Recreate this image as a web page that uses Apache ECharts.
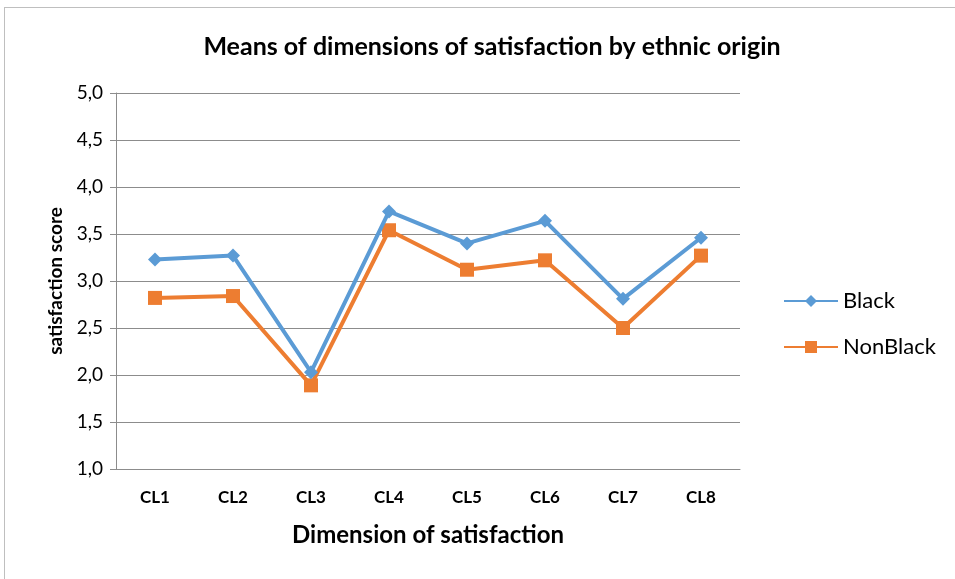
<!DOCTYPE html>
<html>
<head>
<meta charset="utf-8">
<script src="https://cdn.jsdelivr.net/npm/echarts@6/dist/echarts.min.js"></script>
<style>
  html, body { margin: 0; padding: 0; background: #fff; }
  #frame { position: absolute; left: 4px; top: 7px; width: 960px; height: 600px; border: 1px solid #bfbfbf; }
</style>
</head>
<body>
<div id="frame"></div>
<div id="main" style="position:absolute;left:0;top:0;width:955px;height:579px;"></div>
<script type="text/javascript">
    // data
    var categories = ['CL1', 'CL2', 'CL3', 'CL4', 'CL5', 'CL6', 'CL7', 'CL8'];
    var blackValues = [3.23, 3.27, 2.03, 3.74, 3.40, 3.64, 2.81, 3.46];
    var nonBlackValues = [2.82, 2.84, 1.89, 3.54, 3.12, 3.22, 2.50, 3.27];
    var seriesNames = ['Black', 'NonBlack'];

    var font = 'Lato, "Open Sans", sans-serif';
    var myChart = echarts.init(document.getElementById('main'));

    var option = {
        animation: false,
        title: {
            text: 'Means of dimensions of satisfaction by ethnic origin',
            left: 487,
            textAlign: 'center',
            top: 29,
            textStyle: { fontFamily: font, fontSize: 25, fontWeight: 'bold', color: '#000' }
        },
        legend: {
            orient: 'vertical',
            left: 778,
            top: 285,
            itemGap: 24,
            itemWidth: 54,
            itemHeight: 15,
            data: seriesNames,
            textStyle: { fontFamily: font, fontSize: 22, color: '#000' }
        },
        grid: { left: 116, right: 215, top: 93, bottom: 110 },
        xAxis: {
            type: 'category',
            data: categories,
            boundaryGap: true,
            axisLine: { lineStyle: { color: '#8c8c8c', width: 1 } },
            axisTick: { show: false },
            axisLabel: { fontFamily: font, fontSize: 17, fontWeight: 'bold', color: '#000', margin: 20 },
            name: 'Dimension of satisfaction',
            nameLocation: 'middle',
            nameGap: 54,
            nameTextStyle: { fontFamily: font, fontSize: 24, fontWeight: 'bold', color: '#000' }
        },
        yAxis: {
            type: 'value',
            min: 1,
            max: 5,
            interval: 0.5,
            axisLine: { show: true, lineStyle: { color: '#8c8c8c', width: 1 } },
            axisTick: { show: true, length: 6, lineStyle: { color: '#8c8c8c' } },
            splitLine: { lineStyle: { color: '#8c8c8c', width: 1 } },
            axisLabel: {
                fontFamily: font, fontSize: 19, color: '#000', margin: 13,
                formatter: function (v) { return v.toFixed(1).replace('.', ','); }
            },
            name: 'satisfaction score',
            nameLocation: 'middle',
            nameRotate: 90,
            nameGap: 50,
            nameTextStyle: { fontFamily: font, fontSize: 19, fontWeight: 'bold', color: '#000' }
        },
        series: [
            {
                name: seriesNames[0],
                type: 'line',
                data: blackValues,
                symbol: 'diamond',
                symbolSize: 14,
                lineStyle: { color: '#5B9BD5', width: 4 },
                itemStyle: { color: '#5B9BD5' },
                z: 3
            },
            {
                name: seriesNames[1],
                type: 'line',
                data: nonBlackValues,
                symbol: 'rect',
                symbolSize: 14,
                lineStyle: { color: '#ED7D31', width: 4 },
                itemStyle: { color: '#ED7D31' },
                z: 2
            }
        ]
    };
    myChart.setOption(option);
</script>
</body>
</html>
